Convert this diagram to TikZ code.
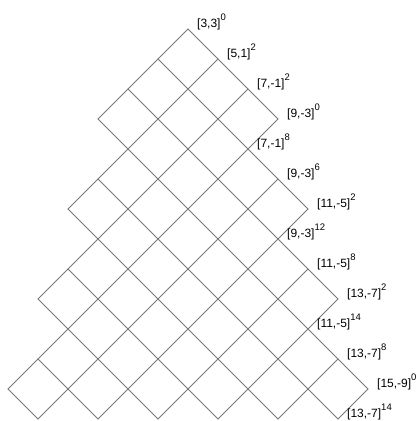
\documentclass[tikz,border=0pt]{standalone}
\usepackage{fontspec}
\setmainfont{Liberation Sans}
\definecolor{gridgray}{RGB}{120,120,120}
\newcommand\lbl[3]{[#1,#2]\raisebox{7pt}{\fontsize{9.5}{9.5}\selectfont #3}}
\begin{document}
\begin{tikzpicture}[x=1pt,y=-1pt,
  gridline/.style={draw=gridgray, line width=0.8pt, line cap=round},
  lab/.style={anchor=base west, inner sep=0pt, font=\fontsize{12}{12}\selectfont, xshift=9pt, yshift=2pt}]
\useasboundingbox (0,0) rectangle (419,421);
\begin{scope}[shift={(188pt,-29pt)}, x={(30pt,-30pt)}, y={(-30pt,-30pt)}]
\foreach \k/\a/\b in {0/0/3,1/0/5,2/0/7,3/0/9,4/1/9,5/1/8,6/2/7,7/2/6,8/3/5,9/3/4}{
  \draw[gridline] (\a,\k) -- (\b,\k);
  \draw[gridline] (\k,\a) -- (\k,\b);
}
\node[lab] (l1) at (0,0) {\lbl{3}{3}{0}};
\node[lab] (l2) at (1,0) {\lbl{5}{1}{2}};
\node[lab] (l3) at (2,0) {\lbl{7}{-1}{2}};
\node[lab] (l4) at (3,0) {\lbl{9}{-3}{0}};
\node[lab] (l5) at (3,1) {\lbl{7}{-1}{8}};
\node[lab] (l6) at (4,1) {\lbl{9}{-3}{6}};
\node[lab] (l7) at (5,1) {\lbl{11}{-5}{2}};
\node[lab] (l8) at (5,2) {\lbl{9}{-3}{12}};
\node[lab] (l9) at (6,2) {\lbl{11}{-5}{8}};
\node[lab] (l10) at (7,2) {\lbl{13}{-7}{2}};
\node[lab] (l11) at (7,3) {\lbl{11}{-5}{14}};
\node[lab] (l12) at (8,3) {\lbl{13}{-7}{8}};
\node[lab] (l13) at (9,3) {\lbl{15}{-9}{0}};
\node[lab] (l14) at (9,4) {\lbl{13}{-7}{14}};
\end{scope}
\end{tikzpicture}
\end{document}
